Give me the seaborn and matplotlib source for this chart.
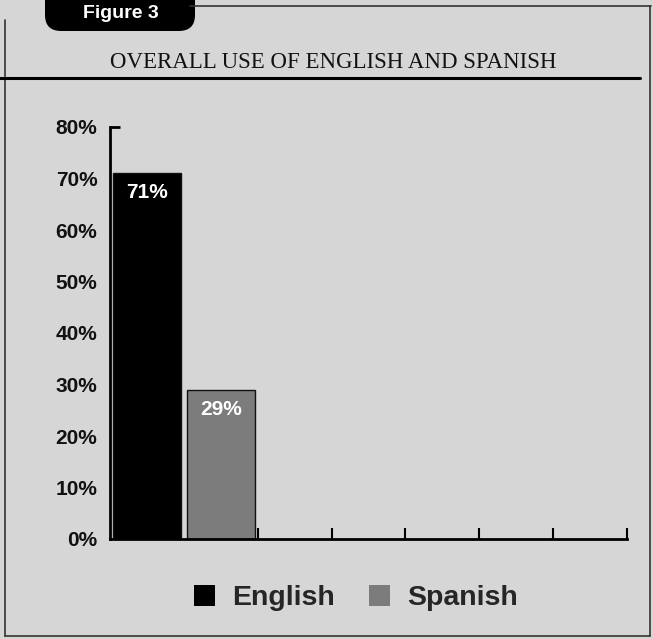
import matplotlib
matplotlib.use("Agg")
import matplotlib.pyplot as plt
from matplotlib.patches import FancyBboxPatch, Rectangle
from matplotlib.lines import Line2D
from matplotlib.ticker import FixedLocator
import seaborn as sns
import pandas as pd

# Data
languages = ["English", "Spanish"]
shares = [71, 29]
bar_labels = ["71%", "29%"]
colors = ["#000000", "#7c7c7c"]
y_ticks = [0, 10, 20, 30, 40, 50, 60, 70, 80]
y_tick_labels = [f"{v}%" for v in y_ticks]
n_slots = 7

title = "OVERALL USE OF ENGLISH AND SPANISH"
badge = "Figure 3"

BG = "#d6d6d6"

sns.set_theme(style="white")
plt.rcParams["font.family"] = ["Liberation Sans", "DejaVu Sans"]

W, H = 653, 639
fig = plt.figure(figsize=(W / 100, H / 100), dpi=100, facecolor=BG)

def fx(px):
    return px / W

def fy(py):
    return 1 - py / H

ax = fig.add_axes([fx(110), fy(539), fx(627) - fx(110), fy(127) - fy(539)])
ax.set_facecolor(BG)

df = pd.DataFrame({"language": languages, "share": shares})
sns.barplot(data=df, x="language", y="share", hue="language",
            palette=dict(zip(languages, colors)), order=languages,
            width=0.92, edgecolor="#111111", linewidth=1.0,
            legend=False, ax=ax)

ax.set_xlim(-0.5, n_slots - 0.5)
ax.set_ylim(0, 80)
ax.set_xlabel("")
ax.set_ylabel("")

# value labels inside bar tops
for patch, lab in zip(ax.patches, bar_labels):
    x = patch.get_x() + patch.get_width() / 2
    y = patch.get_height()
    ax.annotate(lab, (x, y), xytext=(0, -14), textcoords="offset points",
                ha="center", va="center", color="white",
                fontsize=15, fontweight="bold")

# axes styling
for side in ["top", "right"]:
    ax.spines[side].set_visible(False)
for side in ["left", "bottom"]:
    ax.spines[side].set_color("black")
    ax.spines[side].set_linewidth(2.0)

ax.set_yticks(y_ticks)
ax.set_yticklabels(y_tick_labels, fontsize=15, fontweight="bold", color="#111111")
ax.tick_params(axis="y", which="major", length=0, pad=9)
# a single inward tick caps the top of the value axis
ax.yaxis.remove_overlapping_locs = False
ax.yaxis.set_minor_locator(FixedLocator([80]))
ax.tick_params(axis="y", which="minor", direction="in", length=7, width=2,
               color="black", left=True, right=False)

ax.set_xticks([i + 0.5 for i in range(1, n_slots)])
ax.set_xticklabels([])
ax.tick_params(axis="x", which="major", direction="in", length=8, width=1.5,
               color="black", bottom=True)

# legend
handles = [Rectangle((0, 0), 1, 1, facecolor=c, edgecolor="none") for c in colors]
fig.legend(handles, languages, loc="center", bbox_to_anchor=(fx(356), fy(598)),
           ncol=2, frameon=False, handlelength=0.75, handleheight=0.75,
           handletextpad=0.6, columnspacing=1.2,
           prop={"family": "Liberation Sans", "weight": "bold", "size": 20.5})

# outer frame
frame_kw = dict(color="#333333", lw=1.2)
fig.add_artist(Line2D([fx(5), fx(5)], [fy(636), fy(20)], **frame_kw))
fig.add_artist(Line2D([fx(5), fx(650)], [fy(636), fy(636)], **frame_kw))
fig.add_artist(Line2D([fx(190), fx(651)], [fy(6), fy(6)], **frame_kw))
fig.add_artist(Line2D([fx(650), fx(650)], [fy(6), fy(636)], **frame_kw))

# badge tab
tab = FancyBboxPatch((fx(45), fy(31)), fx(195) - fx(45), fy(0) - fy(31) + 0.03,
                     boxstyle="round,pad=0,rounding_size=0.025",
                     transform=fig.transFigure, facecolor="black", edgecolor="none")
fig.add_artist(tab)
fig.text(fx(121), fy(14), badge, ha="center", va="center", color="white",
         fontsize=14, fontweight="bold")

# title and rule
fig.text(fx(333), fy(63), title, ha="center", va="center", color="#111111",
         fontsize=16.5, family=["Liberation Serif", "DejaVu Serif"])
fig.add_artist(Line2D([0, fx(640)], [fy(78), fy(78)], color="black", lw=2.2))

fig.savefig("out.png", dpi=100, facecolor=BG)
